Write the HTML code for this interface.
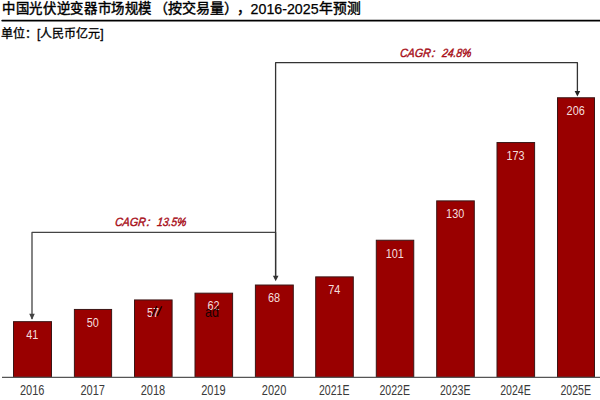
<!DOCTYPE html>
<html lang="zh-CN"><head><meta charset="utf-8">
<style>
html,body{margin:0;padding:0;background:#fff;width:600px;height:400px;overflow:hidden}
svg{display:block}
text{font-family:"Liberation Sans",sans-serif}
.t{font-size:14px;font-weight:500;fill:#000;stroke:#000;stroke-width:0.42}
.td{font-size:14.6px;font-weight:normal;fill:#000;stroke:#000;stroke-width:0.25}
.u{font-size:12px;font-weight:500;fill:#000;stroke:#000;stroke-width:0.3}
.v{font-size:13.2px;fill:#f4dede}
.xl{font-size:14.2px;fill:#3a3a3a}
.cg{font-size:12px;font-style:italic;fill:#a8101a;stroke:#a8101a;stroke-width:0.45}
</style></head><body>
<svg width="600" height="400" viewBox="0 0 600 400">
<text x="2.0" y="12.8" class="t" style="font-size:13.4px;letter-spacing:0.65px">中国光伏逆变器市场规模</text>
<text x="153.6" y="12.8" class="t" style="font-size:14px">（按交易量）</text>
<text x="237" y="12.6" class="t">，</text>
<text x="250.6" y="13.6" class="td" textLength="68" lengthAdjust="spacingAndGlyphs">2016-2025</text>
<text x="319.4" y="13" class="t" textLength="41.3" lengthAdjust="spacingAndGlyphs">年预测</text>
<line x1="2.2" y1="20.6" x2="601" y2="20.6" stroke="#000" stroke-width="1.8" stroke-linecap="round"/>
<text x="1" y="38" class="u">单位：[人民币亿元]</text>
<rect x="13.50" y="321.66" width="38" height="55.64" fill="#990000" stroke="#3a1616" stroke-width="1"/><rect x="74.40" y="309.45" width="37.2" height="67.85" fill="#990000" stroke="#3a1616" stroke-width="1"/><rect x="134.50" y="299.95" width="37.6" height="77.35" fill="#990000" stroke="#3a1616" stroke-width="1"/><rect x="195.00" y="293.17" width="37.6" height="84.13" fill="#990000" stroke="#3a1616" stroke-width="1"/><rect x="255.40" y="285.02" width="37.9" height="92.28" fill="#990000" stroke="#3a1616" stroke-width="1"/><rect x="315.70" y="276.88" width="37.6" height="100.42" fill="#990000" stroke="#3a1616" stroke-width="1"/><rect x="376.30" y="240.24" width="37.45" height="137.06" fill="#990000" stroke="#3a1616" stroke-width="1"/><rect x="436.70" y="200.89" width="37.6" height="176.41" fill="#990000" stroke="#3a1616" stroke-width="1"/><rect x="497.00" y="142.54" width="37.6" height="234.76" fill="#990000" stroke="#3a1616" stroke-width="1"/><rect x="557.50" y="97.76" width="37.0" height="279.54" fill="#990000" stroke="#3a1616" stroke-width="1"/>
<line x1="2" y1="377.3" x2="600" y2="377.3" stroke="#555" stroke-width="1.3"/>
<text x="26.15" y="338.96" textLength="12.10" lengthAdjust="spacingAndGlyphs" class="v">41</text><text x="86.65" y="326.75" textLength="12.10" lengthAdjust="spacingAndGlyphs" class="v">50</text><text x="146.95" y="317.25" textLength="12.10" lengthAdjust="spacingAndGlyphs" class="v">57</text><text x="207.45" y="310.47" textLength="12.10" lengthAdjust="spacingAndGlyphs" class="v">62</text><text x="268.00" y="302.32" textLength="12.10" lengthAdjust="spacingAndGlyphs" class="v">68</text><text x="328.15" y="294.18" textLength="12.10" lengthAdjust="spacingAndGlyphs" class="v">74</text><text x="385.65" y="257.54" textLength="18.15" lengthAdjust="spacingAndGlyphs" class="v">101</text><text x="446.12" y="218.19" textLength="18.15" lengthAdjust="spacingAndGlyphs" class="v">130</text><text x="506.43" y="159.84" textLength="18.15" lengthAdjust="spacingAndGlyphs" class="v">173</text><text x="566.62" y="115.06" textLength="18.15" lengthAdjust="spacingAndGlyphs" class="v">206</text>
<text x="19.95" y="395" textLength="24.5" lengthAdjust="spacingAndGlyphs" class="xl">2016</text><text x="80.45" y="395" textLength="24.5" lengthAdjust="spacingAndGlyphs" class="xl">2017</text><text x="140.75" y="395" textLength="24.5" lengthAdjust="spacingAndGlyphs" class="xl">2018</text><text x="201.25" y="395" textLength="24.5" lengthAdjust="spacingAndGlyphs" class="xl">2019</text><text x="261.80" y="395" textLength="24.5" lengthAdjust="spacingAndGlyphs" class="xl">2020</text><text x="318.90" y="395" textLength="30.6" lengthAdjust="spacingAndGlyphs" class="xl">2021E</text><text x="379.43" y="395" textLength="30.6" lengthAdjust="spacingAndGlyphs" class="xl">2022E</text><text x="439.90" y="395" textLength="30.6" lengthAdjust="spacingAndGlyphs" class="xl">2023E</text><text x="500.20" y="395" textLength="30.6" lengthAdjust="spacingAndGlyphs" class="xl">2024E</text><text x="560.40" y="395" textLength="30.6" lengthAdjust="spacingAndGlyphs" class="xl">2025E</text>
<path d="M152.3 316 L156.8 306.2 M157.3 316 L161.8 306.2" stroke="#1a0000" stroke-width="1.4" fill="none"/>
<text x="205" y="316.5" font-size="14.5" fill="#1a0000" textLength="14" lengthAdjust="spacingAndGlyphs">ad</text>
<path d="M32 319 V232.4 H275.6 V279" fill="none" stroke="#444" stroke-width="1.3" stroke-linejoin="round"/>
<path d="M29.2 313.7 L34.8 313.7 L32 319.7 Z" fill="#444"/>
<path d="M275.6 279 V62.6 H577.4 V92" fill="none" stroke="#333" stroke-width="1.3" stroke-linejoin="round"/>
<path d="M272.9 275.8 L278.5 275.8 L275.7 281.2 Z" fill="#333"/>
<path d="M574.6 91 L580.2 91 L577.4 96.5 Z" fill="#222"/>
<g transform="translate(150,226.2) skewX(-7) translate(-150,-226.2)"><text x="114.7" y="226.2" class="cg" textLength="30.6" lengthAdjust="spacingAndGlyphs">CAGR</text><text x="146.5" y="226.2" class="cg">:</text><text x="156.7" y="226.2" class="cg" textLength="29.3" lengthAdjust="spacingAndGlyphs">13.5%</text></g>
<g transform="translate(435,57.3) skewX(-7) translate(-435,-57.3)"><text x="399.7" y="57.3" class="cg" textLength="30.6" lengthAdjust="spacingAndGlyphs">CAGR</text><text x="431.5" y="57.3" class="cg">:</text><text x="441.7" y="57.3" class="cg" textLength="29.3" lengthAdjust="spacingAndGlyphs">24.8%</text></g>
</svg>
</body></html>
